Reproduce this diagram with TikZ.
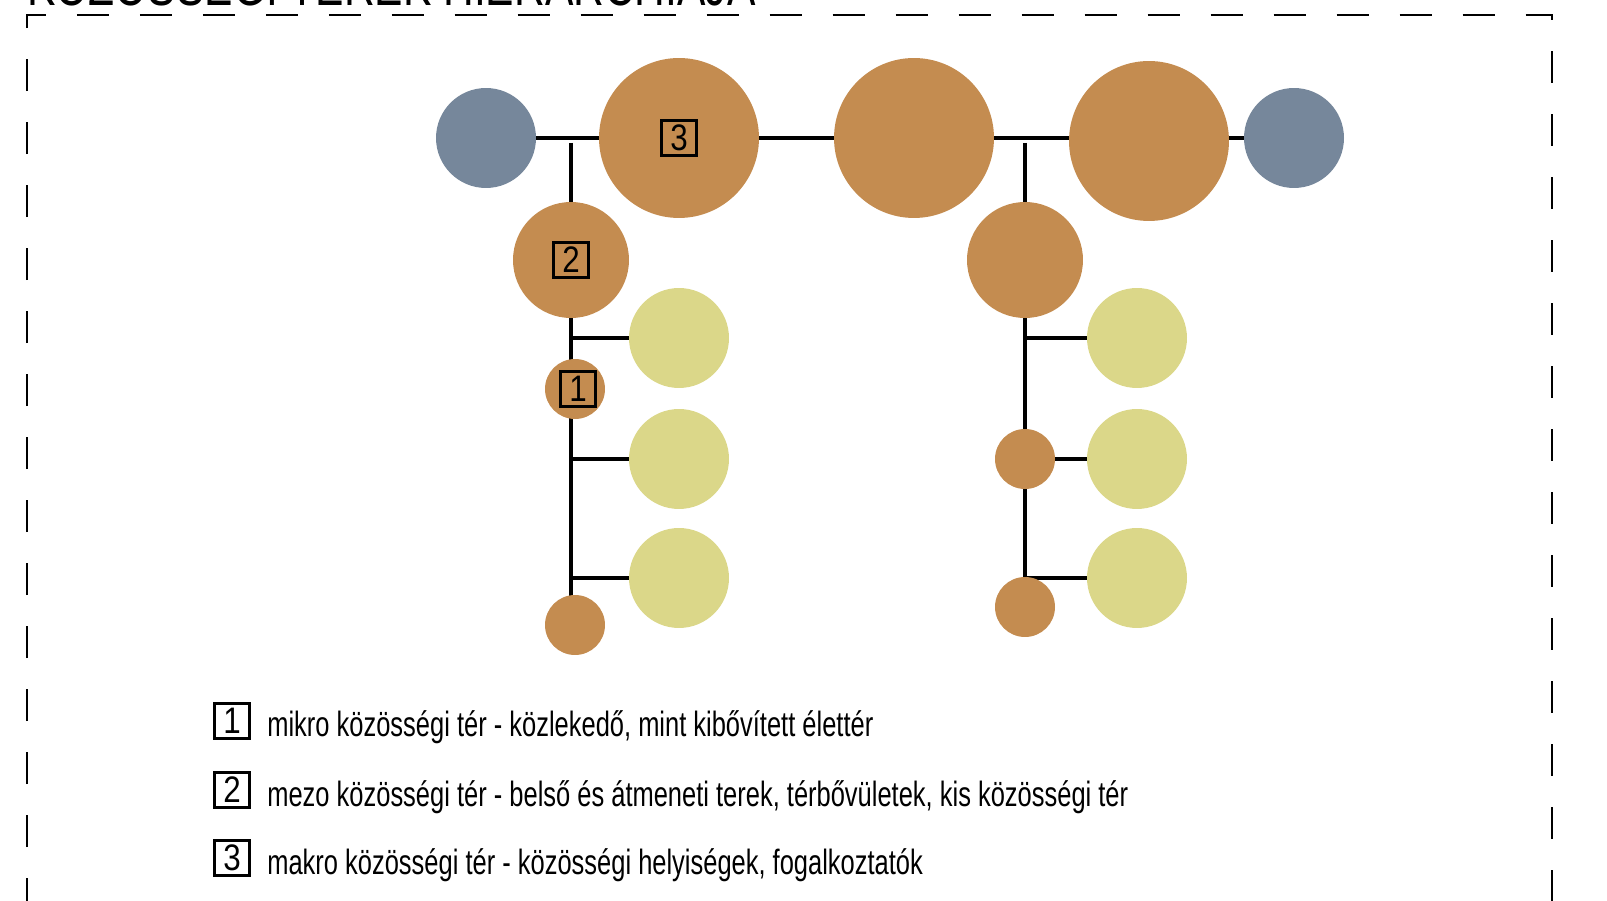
\documentclass[tikz,border=0pt]{standalone}
\usepackage{fontspec}
\setmainfont{Liberation Sans}[FakeStretch=0.725]
\newfontfamily\digitfont{Liberation Sans}[FakeStretch=0.85]
\pgfdeclarelayer{bg}
\pgfsetlayers{bg,main}
\definecolor{ocker}{RGB}{196,140,80}
\definecolor{slate}{RGB}{118,135,155}
\definecolor{sand}{RGB}{219,215,137}
\tikzset{
    bignode/.style = {circle, inner sep=0pt, fill=ocker, minimum size=3.2cm},
    midnode/.style = {circle, inner sep=0pt, fill=ocker, minimum size=2.32cm},
    smallnode/.style = {circle, inner sep=0pt, fill=ocker, minimum size=1.2cm},
    leafnode/.style = {circle, inner sep=0pt, fill=sand, minimum size=2cm},
    endnode/.style = {circle, inner sep=0pt, fill=slate, minimum size=2cm},
    numbox/.style = {rectangle, draw=black, line width=1.5pt, minimum width=0.7cm, minimum height=0.7cm, inner sep=0pt, font=\digitfont\fontsize{21}{21}\selectfont},
    legend/.style = {anchor=base west, inner sep=0pt, font=\fontsize{20}{24}\selectfont},
    edgen/.style = {line width=2.6pt, black},
    framed/.style = {line width=1.5pt, dash pattern=on 0.64cm off 0.62cm, dash phase=1.06cm}, % outer border
}

\begin{document}
\begin{tikzpicture}[x=0.02cm, y=-0.02cm]
\useasboundingbox (0,0) rectangle (1607,901);
\draw[framed] (27,920) -- (27,15) -- (1552,15) -- (1552,920);
\node[anchor=base west, inner sep=0pt, font=\fontsize{33.4}{34}\selectfont] at (27,6) (title) {KÖZÖSSÉGI TEREK HIERARCHIÁJA};
%
\node[endnode] at (486,138) (bl) {};
\node[bignode] at (679,138) (c3) {};
\node[bignode] at (914,138) (cm) {};
\node[bignode] at (1149,141) (cr) {};
\node[endnode] at (1294,138) (br) {};
\node[midnode] at (571,260) (l2) {};
\node[smallnode] at (575,389) (l1) {};
\node[smallnode] at (575,625) (l0) {};
\node[leafnode] at (679,338) (ly1) {};
\node[leafnode] at (679,459) (ly2) {};
\node[leafnode] at (679,578) (ly3) {};
\node[midnode] at (1025,260) (r2) {};
\node[smallnode] at (1025,459) (r1) {};
\node[smallnode] at (1025,607) (r0) {};
\node[leafnode] at (1137,338) (ry1) {};
\node[leafnode] at (1137,459) (ry2) {};
\node[leafnode] at (1137,578) (ry3) {};
\coordinate (lt) at (571,143);
\coordinate (rt) at (1025,143);
%
\node[numbox] at (c3) {3};
\node[numbox] at (l2) {2};
\node[numbox] at ([xshift=0.06cm]l1) {1};
%
\begin{pgfonlayer}{bg}
\draw[edgen] (bl) -- (c3) -- (cm) -- (cm -| cr);
\draw[edgen] (cr |- br) -- (br);
\draw[edgen] (lt) -- (lt |- l0);
\draw[edgen] (rt) -- (r0);
\draw[edgen] (lt |- ly1) -- (ly1);
\draw[edgen] (lt |- ly2) -- (ly2);
\draw[edgen] (lt |- ly3) -- (ly3);
\draw[edgen] (rt |- ry1) -- (ry1);
\draw[edgen] (r1) -- (ry2);
\draw[edgen] (rt |- ry3) -- (ry3);
\end{pgfonlayer}
%
\node[numbox] at (232,721) (k1) {1};
\node[numbox] at (232,790) (k2) {2};
\node[numbox] at (232,858) (k3) {3};
\node[legend] at (267,737) (t1) {mikro közösségi tér - közlekedő, mint kibővített élettér};
\node[legend] at (267,807) (t2) {mezo közösségi tér - belső és átmeneti terek, térbővületek, kis közösségi tér};
\node[legend] at (267,875) (t3) {makro közösségi tér - közösségi helyiségek, fogalkoztatók};
\end{tikzpicture}
\end{document}
